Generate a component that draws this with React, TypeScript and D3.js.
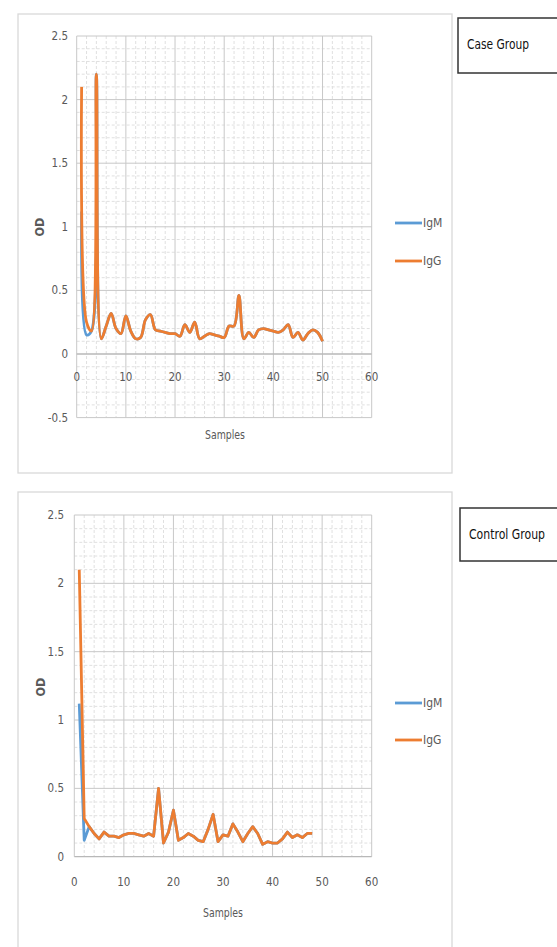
import React from "react";
import * as d3 from "d3";

// ---------- DATA ----------
const caseIgG = [
  2.1, 0.25, 0.18, 2.2, 0.12, 0.22, 0.32, 0.2, 0.16, 0.3,
  0.18, 0.12, 0.13, 0.27, 0.31, 0.19, 0.18, 0.17, 0.16, 0.16,
  0.14, 0.23, 0.17, 0.25, 0.12, 0.14, 0.16, 0.15, 0.14, 0.13,
  0.22, 0.22, 0.46, 0.12, 0.17, 0.13, 0.19, 0.2, 0.19, 0.18,
  0.17, 0.19, 0.23, 0.13, 0.17, 0.11, 0.16, 0.19, 0.17, 0.1,
];
const caseIgM = [
  1.12, 0.15, 0.18, 2.2, 0.12, 0.22, 0.32, 0.2, 0.16, 0.3,
  0.18, 0.12, 0.13, 0.27, 0.31, 0.19, 0.18, 0.17, 0.16, 0.16,
  0.14, 0.23, 0.17, 0.25, 0.12, 0.14, 0.16, 0.15, 0.14, 0.13,
  0.22, 0.22, 0.46, 0.12, 0.17, 0.13, 0.19, 0.2, 0.19, 0.18,
  0.17, 0.19, 0.23, 0.13, 0.17, 0.11, 0.16, 0.19, 0.17, 0.1,
];
const controlIgG = [
  2.1, 0.28, 0.22, 0.17, 0.13, 0.18, 0.15, 0.15, 0.14, 0.16,
  0.17, 0.17, 0.16, 0.15, 0.17, 0.15, 0.5, 0.1, 0.18, 0.34,
  0.12, 0.14, 0.17, 0.15, 0.12, 0.11, 0.2, 0.31, 0.11, 0.16,
  0.15, 0.24, 0.18, 0.11, 0.17, 0.22, 0.17, 0.09, 0.11, 0.1,
  0.1, 0.13, 0.18, 0.14, 0.16, 0.14, 0.17, 0.17,
];
const controlIgM = [
  1.12, 0.12, 0.22, 0.17, 0.13, 0.18, 0.15, 0.15, 0.14, 0.16,
  0.17, 0.17, 0.16, 0.15, 0.17, 0.15, 0.5, 0.1, 0.18, 0.34,
  0.12, 0.14, 0.17, 0.15, 0.12, 0.11, 0.2, 0.31, 0.11, 0.16,
  0.15, 0.24, 0.18, 0.11, 0.17, 0.22, 0.17, 0.09, 0.11, 0.1,
  0.1, 0.13, 0.18, 0.14, 0.16, 0.14, 0.17, 0.17,
];
const xTicks = [0, 10, 20, 30, 40, 50, 60];
const caseYTicks = [-0.5, 0, 0.5, 1, 1.5, 2, 2.5];
const controlYTicks = [0, 0.5, 1, 1.5, 2, 2.5];
const seriesNames = ["IgM", "IgG"];
const titles = ["Case Group", "Control Group"];

const BLUE = "#5b9bd5";
const ORANGE = "#ed7d31";
const FONT = "'DejaVu Sans Condensed', 'Liberation Sans Narrow', Arial, sans-serif";

type ChartProps = {
  frame: { x: number; y: number; w: number; h: number };
  px: [number, number];
  py: [number, number];
  yDomain: [number, number];
  yTicks: number[];
  igm: number[];
  igg: number[];
  smooth: boolean;
  yLabelX: number;
  xLabelY: number;
  samplesPos: [number, number];
  odPos: [number, number];
  legendY: [number, number];
  titleBox: { x: number; y: number; w: number; h: number };
  title: string;
  titleLen: number;
};

function Chart(p: ChartProps) {
  const x = d3.scaleLinear().domain([0, 60]).range(p.px);
  const y = d3.scaleLinear().domain(p.yDomain).range(p.py);
  const minorX = d3.range(0, 60.001, 2).filter((v) => v % 10 !== 0);
  const minorY = d3
    .range(Math.round(p.yDomain[0] * 10), Math.round(p.yDomain[1] * 10) + 1)
    .map((v) => v / 10)
    .filter((v) => Math.abs((v * 2) % 1) > 0.01);
  const line = d3
    .line<number>()
    .x((_, i) => x(i + 1))
    .y((d) => y(d))
    .curve(p.smooth ? d3.curveCatmullRom.alpha(0.5) : d3.curveLinear);

  return (
    <g>
      <rect
        x={p.frame.x}
        y={p.frame.y}
        width={p.frame.w}
        height={p.frame.h}
        fill="#fff"
        stroke="#d9d9d9"
        strokeWidth={1.3}
      />
      {/* minor grid */}
      {minorX.map((v) => (
        <line key={"mx" + v} x1={x(v)} x2={x(v)} y1={p.py[1]} y2={p.py[0]} stroke="#e0e0e0" strokeWidth={1} strokeDasharray="3,2" />
      ))}
      {minorY.map((v) => (
        <line key={"my" + v} x1={p.px[0]} x2={p.px[1]} y1={y(v)} y2={y(v)} stroke="#e0e0e0" strokeWidth={1} strokeDasharray="3,2" />
      ))}
      {/* major grid */}
      {xTicks.map((v) => (
        <line key={"gx" + v} x1={x(v)} x2={x(v)} y1={p.py[1]} y2={p.py[0]} stroke="#c8c8c8" strokeWidth={1} />
      ))}
      {p.yTicks.map((v) => (
        <line key={"gy" + v} x1={p.px[0]} x2={p.px[1]} y1={y(v)} y2={y(v)} stroke={v === 0 ? "#b8b8b8" : "#c8c8c8"} strokeWidth={v === 0 ? 1.3 : 1} />
      ))}
      {/* tick labels */}
      {p.yTicks.map((v) => (
        <text key={"ty" + v} x={p.yLabelX} y={y(v)} dy="0.35em" textAnchor="end" fontSize={11.5} fill="#595959" fontFamily={FONT}>
          {String(v)}
        </text>
      ))}
      {xTicks.map((v) => (
        <text key={"tx" + v} x={x(v)} y={p.xLabelY} dy="0.35em" textAnchor="middle" fontSize={11.5} fill="#595959" fontFamily={FONT}>
          {String(v)}
        </text>
      ))}
      <text
        x={p.samplesPos[0]}
        y={p.samplesPos[1]}
        dy="0.35em"
        textAnchor="middle"
        fontSize={12.5}
        fill="#595959"
        fontFamily={FONT}
        textLength={40}
        lengthAdjust="spacingAndGlyphs"
      >
        Samples
      </text>
      <text
        transform={`translate(${p.odPos[0]},${p.odPos[1]}) rotate(-90)`}
        dy="0.35em"
        textAnchor="middle"
        fontSize={12.5}
        fontWeight="bold"
        fill="#595959"
        fontFamily={FONT}
      >
        OD
      </text>
      {/* series */}
      <path d={line(p.igm) || ""} fill="none" stroke={BLUE} strokeWidth={2.8} strokeLinejoin="round" />
      <path d={line(p.igg) || ""} fill="none" stroke={ORANGE} strokeWidth={2.8} strokeLinejoin="round" />
      {/* legend */}
      {seriesNames.map((n, i) => (
        <g key={n}>
          <line x1={395} x2={422} y1={p.legendY[i]} y2={p.legendY[i]} stroke={i === 0 ? BLUE : ORANGE} strokeWidth={2.8} />
          <text x={423} y={p.legendY[i]} dy="0.35em" fontSize={12} fill="#595959" fontFamily={FONT}>
            {n}
          </text>
        </g>
      ))}
      {/* title box */}
      <rect x={p.titleBox.x} y={p.titleBox.y} width={p.titleBox.w} height={p.titleBox.h} fill="#fff" stroke="#333" strokeWidth={1.5} />
      <text
        x={p.titleBox.x + 9}
        y={p.titleBox.y + 26}
        dy="0.35em"
        fontSize={14}
        fill="#111"
        fontFamily={FONT}
        textLength={p.titleLen}
        lengthAdjust="spacingAndGlyphs"
      >
        {p.title}
      </text>
    </g>
  );
}

export default function App() {
  return (
    <svg width={557} height={947} style={{ position: "absolute", left: 0, top: 0, background: "#fff" }}>
      <rect x={0} y={0} width={557} height={947} fill="#fff" />
      <Chart
        frame={{ x: 18, y: 14, w: 434, h: 459 }}
        px={[76.7, 371.7]}
        py={[417.6, 36]}
        yDomain={[-0.5, 2.5]}
        yTicks={caseYTicks}
        igm={caseIgM}
        igg={caseIgG}
        smooth={true}
        yLabelX={68}
        xLabelY={377}
        samplesPos={[225, 435]}
        odPos={[40, 227]}
        legendY={[223, 261]}
        titleBox={{ x: 458, y: 18, w: 110, h: 55 }}
        title={titles[0]}
        titleLen={62}
      />
      <Chart
        frame={{ x: 18, y: 492, w: 434, h: 480 }}
        px={[74.3, 371.7]}
        py={[856.7, 515]}
        yDomain={[0, 2.5]}
        yTicks={controlYTicks}
        igm={controlIgM}
        igg={controlIgG}
        smooth={false}
        yLabelX={64}
        xLabelY={882}
        samplesPos={[223, 913]}
        odPos={[41, 687]}
        legendY={[703, 740]}
        titleBox={{ x: 460, y: 508, w: 110, h: 53 }}
        title={titles[1]}
        titleLen={76}
      />
    </svg>
  );
}
